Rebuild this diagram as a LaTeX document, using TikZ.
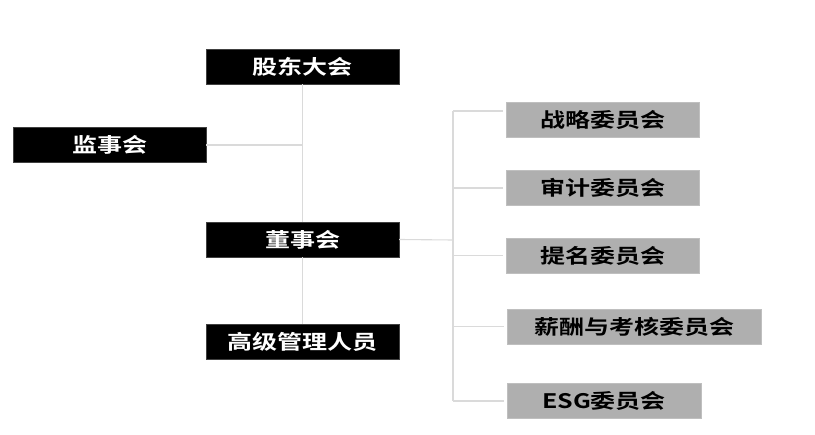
\documentclass[tikz,border=0pt]{standalone}
\usepackage{fontspec}
\usepackage{tikz}
\usetikzlibrary{positioning,calc}
\newfontfamily\cjkbold{Noto Sans CJK SC Bold}[FakeStretch=1.25]
\definecolor{linegray}{HTML}{DADADA}
\definecolor{boxgray}{HTML}{AFAFAF}

\begin{document}
\begin{tikzpicture}[
        x=1pt, y=-1pt,
        board/.style={rectangle, draw=black!75, fill=black, text=white, minimum width=193pt, minimum height=35pt, inner sep=0pt, font=\cjkbold\fontsize{20}{22}\selectfont},
        committee/.style={rectangle, draw=boxgray!80, fill=boxgray, text=black, minimum width=193pt, minimum height=35pt, inner sep=0pt, font=\cjkbold\fontsize{20}{22}\selectfont},
        link/.style={draw=linegray, line width=1.1pt}
    ]
    \useasboundingbox (0,0) rectangle (815,435);

    % Governance column
    \node[board] (gudong) at (302.5,66.5) {股东大会};
    \node[board] (jianshi) at (109.5,145) {监事会};
    \node[board] (dongshi) at (302.5,239.5) {董事会};
    \node[board] (gaoguan) at (302.5,341.5) {高级管理人员};

    % Board committees
    \node[committee] (zhanlue) at (603,120) {战略委员会};
    \node[committee] (shenji) at (603,188) {审计委员会};
    \node[committee] (timing) at (603,255.5) {提名委员会};
    \node[committee, minimum width=254pt] (xinchou) at (634,326.5) {薪酬与考核委员会};
    \node[committee, minimum width=194pt] (esg) at (604,400.5) {ESG委员会};

    % Left trunk
    \draw[link] (gudong) -- (dongshi);
    \draw[link] (dongshi) -- (gaoguan);
    \draw[link] (jianshi.east) -- (jianshi.east -| gudong);

    % Committee bus
    \coordinate (bus) at (453,240);
    \coordinate (bustop) at (453,111);
    \coordinate (busbot) at (453,401);
    \draw[link] (dongshi.east) -- (bus);
    \draw[link] (bustop) -- (busbot);
    \draw[link, shorten >=3pt] (bustop) -- (bustop -| zhanlue.west);
    \draw[link, shorten >=3pt] (bus |- shenji) -- (shenji.west);
    \draw[link, shorten >=3pt] (bus |- timing) -- (timing.west);
    \draw[link, shorten >=3pt] (bus |- xinchou) -- (xinchou.west);
    \draw[link, shorten >=3pt] (busbot) -- (busbot -| esg.west);

\end{tikzpicture}
\end{document}
